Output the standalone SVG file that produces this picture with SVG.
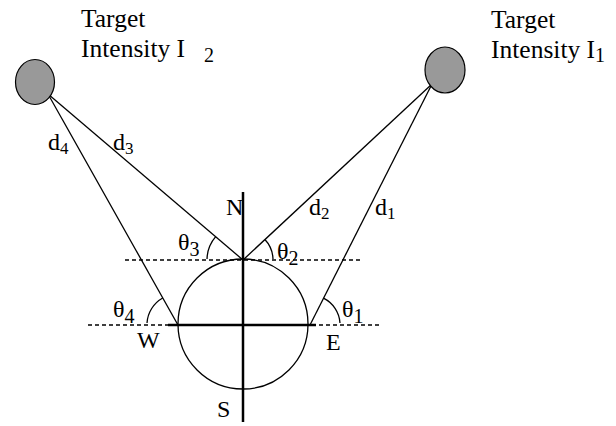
<svg xmlns="http://www.w3.org/2000/svg" width="616" height="426" viewBox="0 0 616 426">
<style>
text{font-family:"Liberation Serif","Times New Roman",serif;fill:#000}
.t{font-size:25.5px}
.l{font-size:24px}
.sub{font-size:17px}
.tsub{font-size:20px}
.thin{stroke:#000;stroke-width:1.3;fill:none}
.thick{stroke:#000;stroke-width:2.5;fill:none}
.dash{stroke:#000;stroke-width:1.6;stroke-dasharray:4 3;fill:none}
.target{fill:#999;stroke:#000;stroke-width:1.2}
</style>
<rect width="616" height="426" fill="#fff"/>
<g id="connectors">
<line class="thin" x1="48" y1="94" x2="243" y2="260"/>
<line class="thin" x1="48" y1="94" x2="178" y2="325"/>
<line class="thin" x1="432" y1="84" x2="243" y2="260"/>
<line class="thin" x1="432" y1="84" x2="310" y2="325"/>
<line class="dash" x1="125" y1="260" x2="360" y2="260"/>
<line class="dash" x1="88" y1="325" x2="382" y2="325"/>
<path class="thin" d="M215.7,236.6 A36,36 0 0 0 207,259"/>
<path class="thin" d="M264.9,239.5 A30,30 0 0 1 273,259"/>
<path class="thin" d="M162.7,298 A31,31 0 0 0 147,323"/>
<path class="thin" d="M323.5,298.2 A30,30 0 0 1 340,323"/>
</g>
<g id="sensor">
<circle class="thin" cx="243" cy="324" r="65"/>
<line class="thick" x1="243" y1="192" x2="243" y2="422"/>
<line class="thick" x1="168" y1="325" x2="316" y2="325"/>
</g>
<g id="target2">
<ellipse class="target" cx="35" cy="82" rx="19.5" ry="22.5"/>
<text class="t" x="81" y="27">Target</text>
<text class="t" x="81" y="57">Intensity  I <tspan class="tsub" x="204" dy="5">2</tspan></text>
</g>
<g id="target1">
<ellipse class="target" cx="445" cy="70" rx="20" ry="23"/>
<text class="t" x="491" y="28">Target</text>
<text class="t" x="491" y="58">Intensity I<tspan class="tsub" dy="4">1</tspan></text>
</g>
<g id="labels">
<text class="l" x="48" y="150">d<tspan class="sub" dy="4">4</tspan></text>
<text class="l" x="113" y="150">d<tspan class="sub" dy="4">3</tspan></text>
<text class="l" x="309" y="215">d<tspan class="sub" dy="4">2</tspan></text>
<text class="l" x="375" y="215">d<tspan class="sub" dy="4">1</tspan></text>
<text class="l" x="226" y="215">N</text>
<text class="l" x="217" y="417">S</text>
<text class="l" x="137" y="348">W</text>
<text class="l" x="326" y="350">E</text>
<text class="l" x="178" y="250">θ<tspan class="tsub" dy="6">3</tspan></text>
<text class="l" x="277" y="259">θ<tspan class="tsub" dy="6">2</tspan></text>
<text class="l" x="113" y="317">θ<tspan class="tsub" dy="6">4</tspan></text>
<text class="l" x="342" y="317">θ<tspan class="tsub" dy="6">1</tspan></text>
</g>
</svg>
